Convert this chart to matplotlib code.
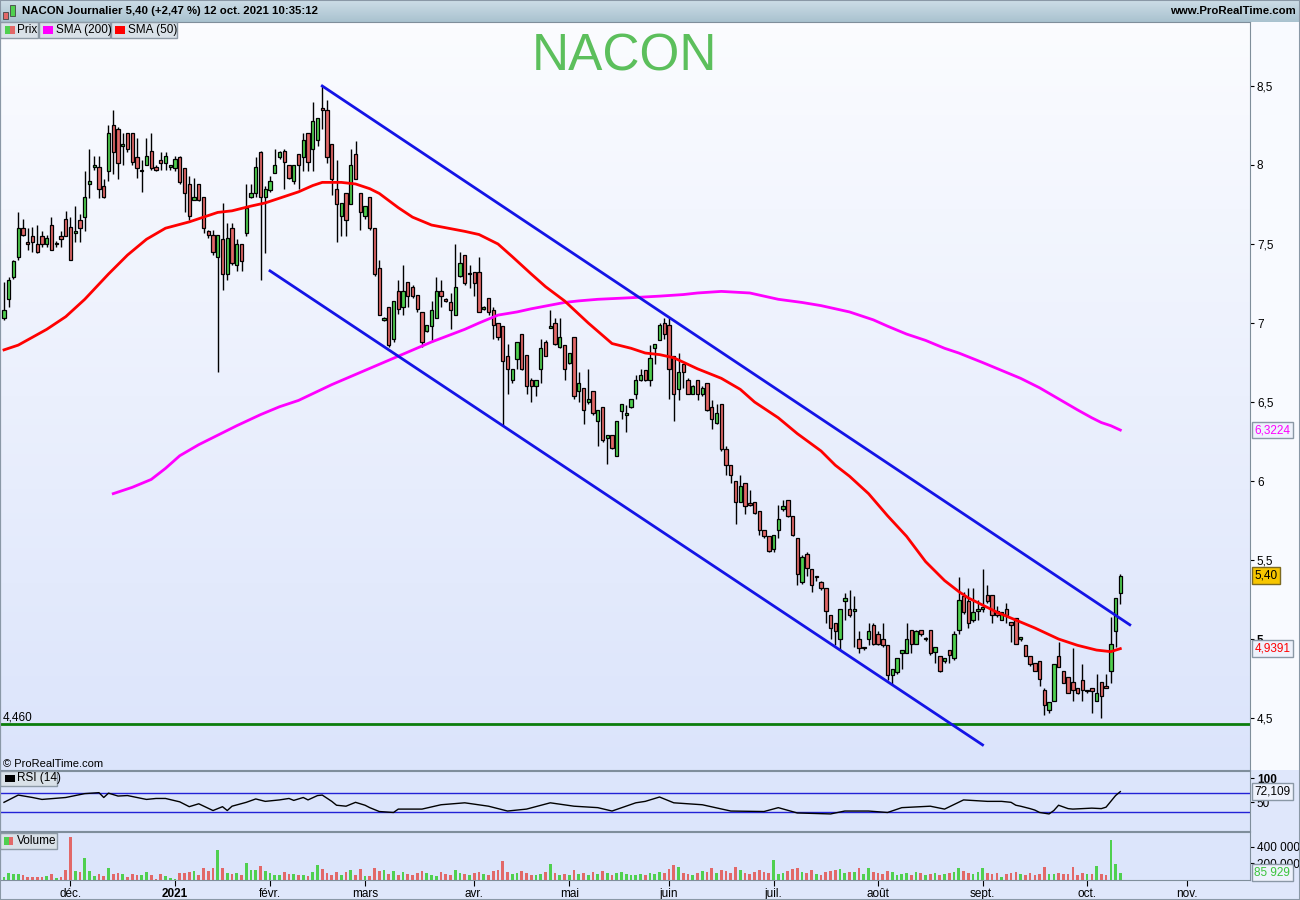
import matplotlib
matplotlib.use("Agg")
import matplotlib.pyplot as plt
import numpy as np
import pandas as pd
from matplotlib.colors import LinearSegmentedColormap
from matplotlib.patches import Rectangle
from matplotlib.transforms import blended_transform_factory

plt.rcParams["font.family"] = ["Liberation Sans", "DejaVu Sans"]

# NACON daily candles, 11 nov. 2020 -> 12 oct. 2021
opens = [7.03, 7.15, 7.29, 7.42, 7.60, 7.51, 7.55, 7.50, 7.55, 7.50,
         7.62, 7.50, 7.55, 7.66, 7.61, 7.57, 7.65, 7.67, 7.88, 7.99,
         7.99, 7.87, 7.96, 8.25, 8.23, 8.12, 8.20, 8.20, 8.05, 7.96,
         8.00, 8.09, 7.99, 8.03, 8.01, 7.99, 7.98, 8.05, 7.98, 7.88,
         7.78, 7.88, 7.80, 7.58, 7.56, 7.42, 7.53, 7.31, 7.60, 7.37,
         7.50, 7.57, 7.80, 7.82, 8.08, 7.80, 7.84, 7.95, 8.05, 8.09,
         8.00, 7.90, 8.07, 8.05, 8.20, 8.10, 8.16, 8.36, 8.35, 8.13,
         7.85, 7.68, 7.82, 7.75, 8.07, 7.82, 7.68, 7.80, 7.60, 7.35,
         7.02, 7.10, 6.90, 7.20, 7.10, 7.26, 7.23, 7.18, 7.07, 6.95,
         6.98, 7.03, 7.20, 7.15, 7.13, 7.05, 7.30, 7.43, 7.31, 7.32,
         7.32, 7.09, 7.16, 7.08, 7.00, 6.98, 6.79, 6.64, 6.77, 6.93,
         6.80, 6.64, 6.60, 6.71, 6.88, 6.97, 7.00, 6.85, 6.86, 6.75,
         6.91, 6.57, 6.59, 6.50, 6.57, 6.38, 6.47, 6.27, 6.29, 6.16,
         6.44, 6.42, 6.47, 6.55, 6.64, 6.70, 6.64, 6.84, 6.89, 7.00,
         6.99, 6.79, 6.58, 6.74, 6.64, 6.55, 6.64, 6.55, 6.62, 6.47,
         6.37, 6.49, 6.20, 6.10, 6.00, 5.87, 5.99, 5.86, 5.87, 5.81,
         5.69, 5.65, 5.57, 5.69, 5.82, 5.88, 5.78, 5.64, 5.36, 5.54,
         5.44, 5.39, 5.36, 5.32, 5.15, 5.10, 5.00, 5.24, 5.19, 5.18,
         5.00, 4.94, 5.00, 5.09, 5.03, 5.00, 4.96, 4.77, 4.79, 4.91,
         4.91, 5.06, 4.97, 5.06, 5.00, 5.06, 4.92, 4.89, 4.86, 4.93,
         4.88, 5.06, 5.27, 5.24, 5.12, 5.18, 5.19, 5.28, 5.28, 5.18,
         5.12, 5.19, 5.11, 5.13, 5.00, 4.96, 4.89, 4.85, 4.86, 4.68,
         4.55, 4.61, 4.89, 4.80, 4.76, 4.73, 4.69, 4.74, 4.67, 4.69,
         4.61, 4.73, 4.70, 4.80, 5.05, 5.29]
highs = [7.26, 7.29, 7.40, 7.70, 7.66, 7.60, 7.61, 7.62, 7.58, 7.56,
         7.67, 7.52, 7.58, 7.71, 7.67, 7.74, 7.69, 7.96, 8.10, 8.06,
         8.06, 7.91, 8.25, 8.35, 8.24, 8.20, 8.20, 8.20, 8.17, 8.03,
         8.17, 8.20, 8.00, 8.08, 8.08, 8.00, 8.06, 8.06, 7.98, 7.93,
         7.92, 7.88, 7.80, 7.59, 7.59, 7.56, 7.76, 7.63, 7.63, 7.53,
         7.50, 7.88, 7.88, 8.05, 8.09, 7.87, 7.93, 8.10, 8.09, 8.10,
         8.00, 8.00, 8.07, 8.20, 8.20, 8.40, 8.30, 8.50, 8.41, 8.13,
         8.03, 7.76, 7.82, 8.10, 8.15, 7.82, 7.74, 7.80, 7.60, 7.40,
         7.04, 7.10, 7.14, 7.27, 7.37, 7.26, 7.24, 7.18, 7.07, 6.99,
         7.14, 7.29, 7.27, 7.16, 7.19, 7.50, 7.45, 7.43, 7.37, 7.32,
         7.42, 7.11, 7.16, 7.10, 7.00, 6.98, 6.87, 6.71, 6.88, 6.93,
         6.80, 6.65, 6.64, 6.90, 6.89, 7.08, 7.03, 7.03, 6.86, 6.81,
         6.91, 6.69, 6.59, 6.71, 6.57, 6.45, 6.47, 6.29, 6.29, 6.38,
         6.49, 6.48, 6.52, 6.67, 6.71, 6.70, 6.86, 6.87, 7.00, 7.03,
         7.03, 6.79, 6.81, 6.74, 6.65, 6.61, 6.64, 6.60, 6.62, 6.51,
         6.49, 6.49, 6.22, 6.10, 6.00, 6.04, 5.99, 5.94, 5.87, 5.81,
         5.69, 5.65, 5.66, 5.85, 5.88, 5.88, 5.78, 5.64, 5.53, 5.55,
         5.44, 5.40, 5.37, 5.32, 5.15, 5.10, 5.19, 5.29, 5.31, 5.27,
         5.05, 4.95, 5.10, 5.10, 5.05, 5.10, 4.96, 4.81, 4.88, 4.93,
         5.10, 5.06, 5.06, 5.06, 5.01, 5.06, 4.95, 4.89, 4.88, 4.93,
         5.05, 5.39, 5.30, 5.32, 5.32, 5.25, 5.44, 5.34, 5.28, 5.21,
         5.17, 5.23, 5.11, 5.13, 5.01, 4.96, 4.89, 4.85, 4.86, 4.69,
         4.60, 4.84, 4.98, 4.80, 4.76, 4.94, 4.69, 4.84, 4.68, 4.69,
         4.78, 4.73, 4.78, 5.14, 5.26, 5.41]
lows = [7.02, 7.10, 7.28, 7.40, 7.55, 7.46, 7.45, 7.44, 7.48, 7.48,
        7.46, 7.48, 7.48, 7.55, 7.40, 7.51, 7.51, 7.58, 7.79, 7.97,
        7.79, 7.79, 7.90, 7.94, 7.91, 8.00, 8.08, 8.00, 7.92, 7.83,
        8.00, 7.97, 7.96, 7.97, 7.97, 7.97, 7.96, 7.88, 7.70, 7.65,
        7.78, 7.77, 7.57, 7.54, 7.43, 6.69, 7.21, 7.27, 7.37, 7.33,
        7.33, 7.55, 7.79, 7.80, 7.27, 7.44, 7.83, 7.95, 8.04, 7.85,
        7.91, 7.88, 7.85, 7.96, 7.96, 7.96, 8.12, 8.23, 8.01, 7.81,
        7.51, 7.55, 7.55, 7.75, 7.91, 7.59, 7.66, 7.59, 7.30, 7.05,
        7.01, 6.85, 6.88, 7.06, 7.05, 7.10, 7.16, 7.07, 6.85, 6.94,
        6.88, 7.03, 7.10, 7.13, 6.96, 7.05, 7.29, 7.24, 7.22, 7.17,
        7.07, 7.08, 7.05, 6.90, 6.89, 6.35, 6.55, 6.62, 6.71, 6.70,
        6.55, 6.50, 6.54, 6.62, 6.79, 6.97, 6.86, 6.84, 6.64, 6.74,
        6.52, 6.50, 6.36, 6.49, 6.42, 6.22, 6.25, 6.11, 6.20, 6.16,
        6.39, 6.31, 6.46, 6.52, 6.63, 6.63, 6.60, 6.74, 6.89, 6.90,
        6.52, 6.38, 6.51, 6.59, 6.55, 6.55, 6.51, 6.54, 6.44, 6.33,
        6.36, 6.19, 6.04, 5.99, 5.73, 5.87, 5.79, 5.84, 5.79, 5.66,
        5.64, 5.55, 5.55, 5.64, 5.81, 5.77, 5.65, 5.34, 5.35, 5.40,
        5.30, 5.37, 5.31, 5.10, 5.00, 4.96, 4.93, 5.12, 5.14, 4.95,
        4.91, 4.93, 4.96, 4.96, 4.96, 4.95, 4.74, 4.71, 4.78, 4.81,
        4.91, 4.91, 4.97, 5.02, 4.99, 4.90, 4.85, 4.79, 4.85, 4.85,
        4.87, 5.03, 5.16, 5.07, 5.11, 5.12, 5.17, 5.23, 5.10, 5.14,
        5.12, 5.10, 4.98, 4.97, 4.99, 4.89, 4.83, 4.80, 4.70, 4.52,
        4.53, 4.61, 4.82, 4.72, 4.66, 4.61, 4.65, 4.61, 4.66, 4.53,
        4.61, 4.50, 4.69, 4.72, 4.95, 5.22]
closes = [7.08, 7.27, 7.39, 7.60, 7.56, 7.50, 7.51, 7.45, 7.50, 7.54,
          7.46, 7.50, 7.53, 7.55, 7.40, 7.58, 7.60, 7.80, 7.90, 7.99,
          7.85, 7.80, 8.20, 8.08, 8.01, 8.13, 8.10, 8.02, 7.98, 7.96,
          8.06, 7.98, 7.97, 8.01, 8.06, 7.99, 8.04, 7.89, 7.82, 7.68,
          7.80, 7.78, 7.60, 7.56, 7.45, 7.56, 7.31, 7.54, 7.38, 7.50,
          7.39, 7.73, 7.82, 7.99, 7.80, 7.85, 7.90, 8.00, 8.08, 8.02,
          7.92, 8.00, 8.00, 8.16, 8.02, 8.28, 8.30, 8.35, 8.05, 7.91,
          7.75, 7.76, 7.65, 8.00, 7.91, 7.70, 7.74, 7.60, 7.31, 7.05,
          7.03, 6.86, 7.14, 7.09, 7.20, 7.17, 7.17, 7.09, 6.88, 6.99,
          7.08, 7.20, 7.17, 7.14, 7.08, 7.23, 7.38, 7.25, 7.31, 7.25,
          7.07, 7.10, 7.07, 6.99, 6.91, 6.76, 6.71, 6.71, 6.88, 6.71,
          6.60, 6.60, 6.64, 6.84, 6.79, 6.98, 6.87, 6.91, 6.71, 6.81,
          6.54, 6.62, 6.45, 6.52, 6.43, 6.45, 6.26, 6.29, 6.21, 6.38,
          6.49, 6.43, 6.52, 6.64, 6.67, 6.64, 6.78, 6.87, 6.99, 6.93,
          6.71, 6.55, 6.69, 6.69, 6.55, 6.60, 6.55, 6.59, 6.45, 6.39,
          6.43, 6.20, 6.10, 6.04, 5.87, 5.97, 5.84, 5.85, 5.80, 5.69,
          5.65, 5.56, 5.66, 5.76, 5.84, 5.78, 5.66, 5.41, 5.52, 5.45,
          5.34, 5.39, 5.32, 5.18, 5.07, 5.05, 5.19, 5.26, 5.15, 5.18,
          4.94, 4.94, 5.05, 4.97, 4.97, 4.96, 4.77, 4.81, 4.88, 4.93,
          5.00, 4.97, 5.05, 5.03, 5.00, 4.91, 4.95, 4.80, 4.88, 4.90,
          5.03, 5.25, 5.17, 5.10, 5.17, 5.18, 5.20, 5.24, 5.15, 5.15,
          5.17, 5.15, 5.09, 4.97, 5.01, 4.89, 4.84, 4.80, 4.75, 4.58,
          4.60, 4.84, 4.82, 4.72, 4.66, 4.68, 4.66, 4.68, 4.68, 4.67,
          4.66, 4.64, 4.69, 4.97, 5.26, 5.40]
# volume in thousands of shares
volume_k = [41, 86, 74, 74, 65, 41, 41, 41, 41, 53,
            70, 29, 41, 123, 515, 110, 102, 270, 106, 49,
            70, 49, 147, 78, 86, 78, 41, 70, 65, 65,
            94, 57, 16, 70, 49, 25, 16, 82, 86, 94,
            110, 61, 147, 110, 147, 356, 147, 86, 78, 86,
            61, 209, 123, 123, 172, 110, 90, 61, 61, 98,
            70, 70, 61, 61, 49, 98, 184, 127, 86, 61,
            98, 65, 102, 123, 61, 127, 45, 45, 147, 110,
            119, 70, 110,
            57, 98, 74, 61, 90, 110, 82, 65, 49, 98, 70, 57, 115, 86, 74, 61, 82,
            98, 70, 61, 110, 123, 225, 98, 74, 86, 110, 90, 65, 57, 74, 98, 192, 82, 61, 70, 57,
            123, 74, 86, 61, 98, 74, 110, 82, 65, 86, 98, 74, 61, 57, 70, 61, 86, 74, 98, 82,
            127, 184, 160, 90, 74, 61, 86, 110, 98, 143, 82, 123, 110, 90, 160, 115, 86, 74, 102, 119,
            98, 86, 245, 74, 90, 110, 127, 143, 102, 86, 119, 74, 65, 98, 110, 123, 127, 86, 102, 94,
            147, 70, 139, 98, 86, 74, 110, 98, 61, 74, 82, 65, 98, 86, 57, 74, 90, 65, 78, 86,
            98, 147, 110, 86, 74, 98, 139, 86, 70, 82,
            37, 70, 86, 102, 70, 61, 86, 61, 74, 160, 74, 74, 86,
            74, 74, 160, 61, 86, 74, 74, 172, 74, 61, 479, 196, 85.929]

# moving averages (bar index, value)
sma50_idx = [0, 3, 6, 9, 13, 17, 22, 26, 30, 34, 39, 45, 48, 52, 55, 58, 62, 65, 67,
             71, 74, 77, 79, 83, 86, 90, 97, 100, 104, 107, 111, 114, 118, 123, 128,
             132, 135, 138, 141, 146, 151, 155, 158, 163, 167, 172, 175, 178, 182,
             186, 190, 194, 198, 201, 203, 209, 213, 217, 222, 226, 230, 233, 235]
sma50_val = [6.83, 6.86, 6.91, 6.96, 7.04, 7.15, 7.31, 7.43, 7.53, 7.60, 7.64, 7.70,
             7.71, 7.74, 7.76, 7.79, 7.83, 7.87, 7.89, 7.89, 7.88, 7.85, 7.82, 7.73,
             7.67, 7.62, 7.58, 7.56, 7.50, 7.42, 7.31, 7.23, 7.14, 7.00, 6.87, 6.84,
             6.81, 6.80, 6.78, 6.71, 6.65, 6.58, 6.50, 6.40, 6.30, 6.19, 6.10, 6.03,
             5.92, 5.78, 5.65, 5.49, 5.37, 5.30, 5.26, 5.17, 5.12, 5.07, 5.00, 4.96,
             4.93, 4.92, 4.9391]
sma200_idx = [23, 27, 31, 34, 37, 41, 45, 49, 54, 58, 62, 69, 76, 83, 90, 97, 100,
              104, 108, 111, 118, 121, 125, 132, 138, 143, 146, 151, 157, 160, 163,
              168, 172, 175, 178, 183, 186, 190, 194, 198, 201, 206, 210, 214, 218,
              222, 226, 229, 231, 233, 235]
sma200_val = [5.92, 5.96, 6.01, 6.08, 6.16, 6.23, 6.29, 6.35, 6.42, 6.47, 6.51, 6.61,
              6.70, 6.79, 6.88, 6.96, 7.00, 7.05, 7.07, 7.09, 7.13, 7.14, 7.15, 7.16,
              7.17, 7.18, 7.19, 7.20, 7.19, 7.17, 7.15, 7.13, 7.11, 7.09, 7.07, 7.02,
              6.98, 6.93, 6.89, 6.84, 6.81, 6.75, 6.70, 6.65, 6.59, 6.52, 6.45, 6.40,
              6.37, 6.35, 6.3224]
rsi_idx = [0, 3, 6, 8, 13, 17, 20, 21, 22, 24, 26, 30, 32, 34, 37, 39, 41, 44, 46, 47,
           48, 51, 53, 55, 58, 60, 61, 63, 64, 66, 67, 69, 70, 72, 74, 76, 77, 79, 82, 83,
           88, 92, 97, 102, 106, 110, 115, 120, 125, 128, 133, 135, 138, 141, 147, 153,
           160, 163, 167, 174, 177, 182, 186, 189, 195, 198, 202, 207, 210, 212, 213,
           214, 216, 217, 218, 220, 221, 222, 224, 225, 227, 229, 231, 232, 233, 234, 235]
rsi_val = [50, 65, 60, 56, 60, 68, 70, 60, 69, 63, 64, 56, 58, 58, 51, 41, 47, 33, 41, 33,
           42, 50, 57, 52, 55, 58, 54, 60, 55, 64, 65, 52, 44, 42, 50, 44, 39, 31, 29, 36,
           36, 45, 49, 42, 32, 36, 49, 42, 39, 32, 49, 52, 61, 49, 45, 32, 31, 39, 28, 26,
           32, 32, 29, 39, 42, 36, 55, 52, 52, 50, 44, 42, 37, 34, 29, 26, 33, 44, 37, 36,
           37, 38, 37, 40, 52, 64, 72.109]

# drawn objects: channel lines and support level
channel_top_idx = [67, 237]
channel_top = [8.50, 5.09]
channel_low_idx = [56, 206]
channel_low = [7.33, 4.33]
support = 4.46

month_labels = ["déc.", "2021", "févr.", "mars", "avr.", "mai", "juin",
                "juil.", "août", "sept.", "oct.", "nov."]

# trading calendar (Euronext)
holidays = pd.to_datetime(["2020-12-25", "2021-01-01", "2021-04-02", "2021-04-05"])
days = pd.bdate_range("2020-11-11", "2021-11-30")
days = days[~days.isin(holidays)]
first_of_month = pd.Series(np.arange(len(days)), index=days).groupby(
    [days.year, days.month]).first().values
month_idx = first_of_month[1:13]

W, H = 1300, 900
GREEN, RED = "#4fd04f", "#e26868"


def fx(p):
    return p / W


def fy(p):
    return 1 - p / H


def box(x0, y0, x1, y1):
    return [fx(x0), fy(y1), fx(x1) - fx(x0), fy(y0) - fy(y1)]


def vgrad(ax, top, bottom):
    cmap = LinearSegmentedColormap.from_list("g", [top, bottom])
    ax.imshow(np.linspace(0, 1, 128).reshape(-1, 1), cmap=cmap, aspect="auto",
              extent=[0, 1, 0, 1], transform=ax.transAxes, zorder=0)


def prect(x0, y0, x1, y1, fc, ec="none", lw=1, z=20):
    fig.patches.append(Rectangle((fx(x0), fy(y1)), fx(x1 - x0), (y1 - y0) / H,
                                 transform=fig.transFigure, fc=fc, ec=ec, lw=lw, zorder=z))


def legend_box(x0, y0, x1, y1, text, icons, tx):
    prect(x0, y0, x1, y1, "#d9e1e8", "#8d9aa6")
    for ix0, ix1, c in icons:
        prect(ix0, y0 + 4, ix1, y1 - 4, c, z=21)
    fig.text(fx(tx), fy((y0 + y1) / 2), text, fontsize=8.5, va="center", zorder=22)


def tag(ax, y, text, fc, tc, ec="#8a98a6"):
    ax.text(1.0035, y, text, transform=blended_transform_factory(ax.transAxes, ax.transData),
            ha="left", va="center", fontsize=8.5, color=tc, clip_on=False, zorder=10,
            bbox=dict(boxstyle="square,pad=0.2", fc=fc, ec=ec, lw=1))


fig = plt.figure(figsize=(13, 9), dpi=100, facecolor="#dfe7fb")
prect(1250, 22, 1300, 770, "#f8faff", z=-1)

ax_h = fig.add_axes(box(0, 0, 1300, 22))
vgrad(ax_h, "#cddde7", "#a9c2cf")
ax_h.set_axis_off()

ax_p = fig.add_axes(box(0, 22, 1250, 770))
ax_r = fig.add_axes(box(0, 771, 1250, 831), sharex=ax_p)
ax_v = fig.add_axes(box(0, 832, 1250, 880), sharex=ax_p)

# price panel
vgrad(ax_p, "#fbfcff", "#dbe4fb")
x = np.arange(len(closes))
o, h, l, c = map(np.array, (opens, highs, lows, closes))
col = np.where(c >= o, GREEN, RED)
ax_p.axhline(support, color="#0b7d0b", lw=2, zorder=2)
ax_p.vlines(x, l, h, color="black", lw=1, zorder=3)
ax_p.bar(x, np.maximum(np.abs(c - o), 0.008), 0.72, bottom=np.minimum(o, c),
         color=col, edgecolor="black", linewidth=0.9, zorder=4)
ax_p.plot(sma200_idx, sma200_val, color="#ff00ff", lw=2, zorder=5)
ax_p.plot(sma50_idx, sma50_val, color="#ff0000", lw=2, zorder=5)
ax_p.plot(channel_top_idx, channel_top, color="#1414e6", lw=2, zorder=6)
ax_p.plot(channel_low_idx, channel_low, color="#1414e6", lw=2, zorder=6)
ax_p.set_xlim(-0.84, 262.3)
ax_p.set_ylim(4.171, 8.905)
ax_p.yaxis.tick_right()
yt = np.arange(4.5, 8.51, 0.5)
ax_p.set_yticks(yt)
ax_p.set_yticklabels([f"{t:g}".replace(".", ",") for t in yt])
for lab in ax_p.get_yticklabels():
    if lab.get_text() == "5":
        lab.set_fontweight("bold")
ax_p.tick_params(axis="y", length=3, pad=2, labelsize=8.5)
ax_p.tick_params(axis="x", length=0, labelbottom=False)
tag(ax_p, closes[-1], f"{closes[-1]:.2f}".replace(".", ","), "#f7c600", "black", "#7d6a20")
tag(ax_p, sma50_val[-1], f"{sma50_val[-1]:.4f}".replace(".", ","), "#eef2fc", "#ff0000")
tag(ax_p, sma200_val[-1], f"{sma200_val[-1]:.4f}".replace(".", ","), "#eef2fc", "#ff00ff")
fig.text(fx(625), fy(57), "NACON", fontsize=37, color="#5cbf5c", ha="center", va="center")

# RSI panel
ax_r.set_facecolor("#dce5fb")
ax_r.axhline(70, color="#2222d6", lw=1)
ax_r.axhline(30, color="#2222d6", lw=1)
ax_r.plot(rsi_idx, rsi_val, color="black", lw=1)
ax_r.set_ylim(-9.3, 114.8)
ax_r.yaxis.tick_right()
ax_r.set_yticks([50, 100])
ax_r.set_yticklabels(["50", "100"])
ax_r.get_yticklabels()[1].set_fontweight("bold")
ax_r.tick_params(axis="y", length=3, pad=2, labelsize=8.5)
ax_r.tick_params(axis="x", length=0, labelbottom=False)
tag(ax_r, rsi_val[-1], f"{rsi_val[-1]:.3f}".replace(".", ","), "#eef2fc", "black")

# volume panel
ax_v.set_facecolor("#dce5fb")
vol = np.array(volume_k)
ax_v.bar(x, vol, 0.55, color=col, linewidth=0)
ax_v.set_ylim(0, 577)
ax_v.yaxis.tick_right()
ax_v.set_yticks([200, 400])
ax_v.set_yticklabels(["200 000", "400 000"])
ax_v.tick_params(axis="y", length=3, pad=2, labelsize=8.5)
tag(ax_v, vol[-1], f"{vol[-1] * 1000:,.0f}".replace(",", " "), "#eef2fc", "#3cc43c")
ax_v.set_xticks(month_idx)
ax_v.set_xticklabels(month_labels)
ax_v.get_xticklabels()[1].set_fontweight("bold")
ax_v.tick_params(axis="x", length=4, pad=2, labelsize=8.5)
ax_p.set_xlim(-0.84, 262.3)

for ax in (ax_p, ax_r, ax_v):
    for s in ax.spines.values():
        s.set_color("#7f8e9b")

# header bar
prect(3, 12, 8, 19, RED, "#444444", 0.6, 30)
prect(10, 5, 15, 16, GREEN, "#444444", 0.6, 30)
fig.text(fx(22), fy(11), "NACON Journalier 5,40 (+2,47 %) 12 oct. 2021 10:35:12",
         fontsize=8.2, fontweight="bold", va="center", zorder=30)
fig.text(fx(1296), fy(11), "www.ProRealTime.com", fontsize=8.2, fontweight="bold",
         ha="right", va="center", zorder=30)

# panel labels
legend_box(0, 22, 38, 38, "Prix", [(5, 10, GREEN), (10, 15, RED)], 17)
legend_box(39, 22, 110, 38, "SMA (200)", [(43, 53, "#ff00ff")], 56)
legend_box(111, 22, 177, 38, "SMA (50)", [(115, 125, "#ff0000")], 128)
legend_box(0, 771, 57, 786, "RSI (14)", [(5, 15, "black")], 17)
legend_box(0, 833, 57, 849, "Volume", [(4, 9, GREEN), (9, 13, RED)], 17)
fig.text(fx(3), fy(764), "© ProRealTime.com", fontsize=8, va="center")
fig.text(fx(3), fy(718), "4,460", fontsize=8.5, va="center")
prect(0, 0, 1300, 900, "none", "#8a98a6", 1.5, 40)

fig.savefig("out.png", dpi=100, facecolor=fig.get_facecolor())
